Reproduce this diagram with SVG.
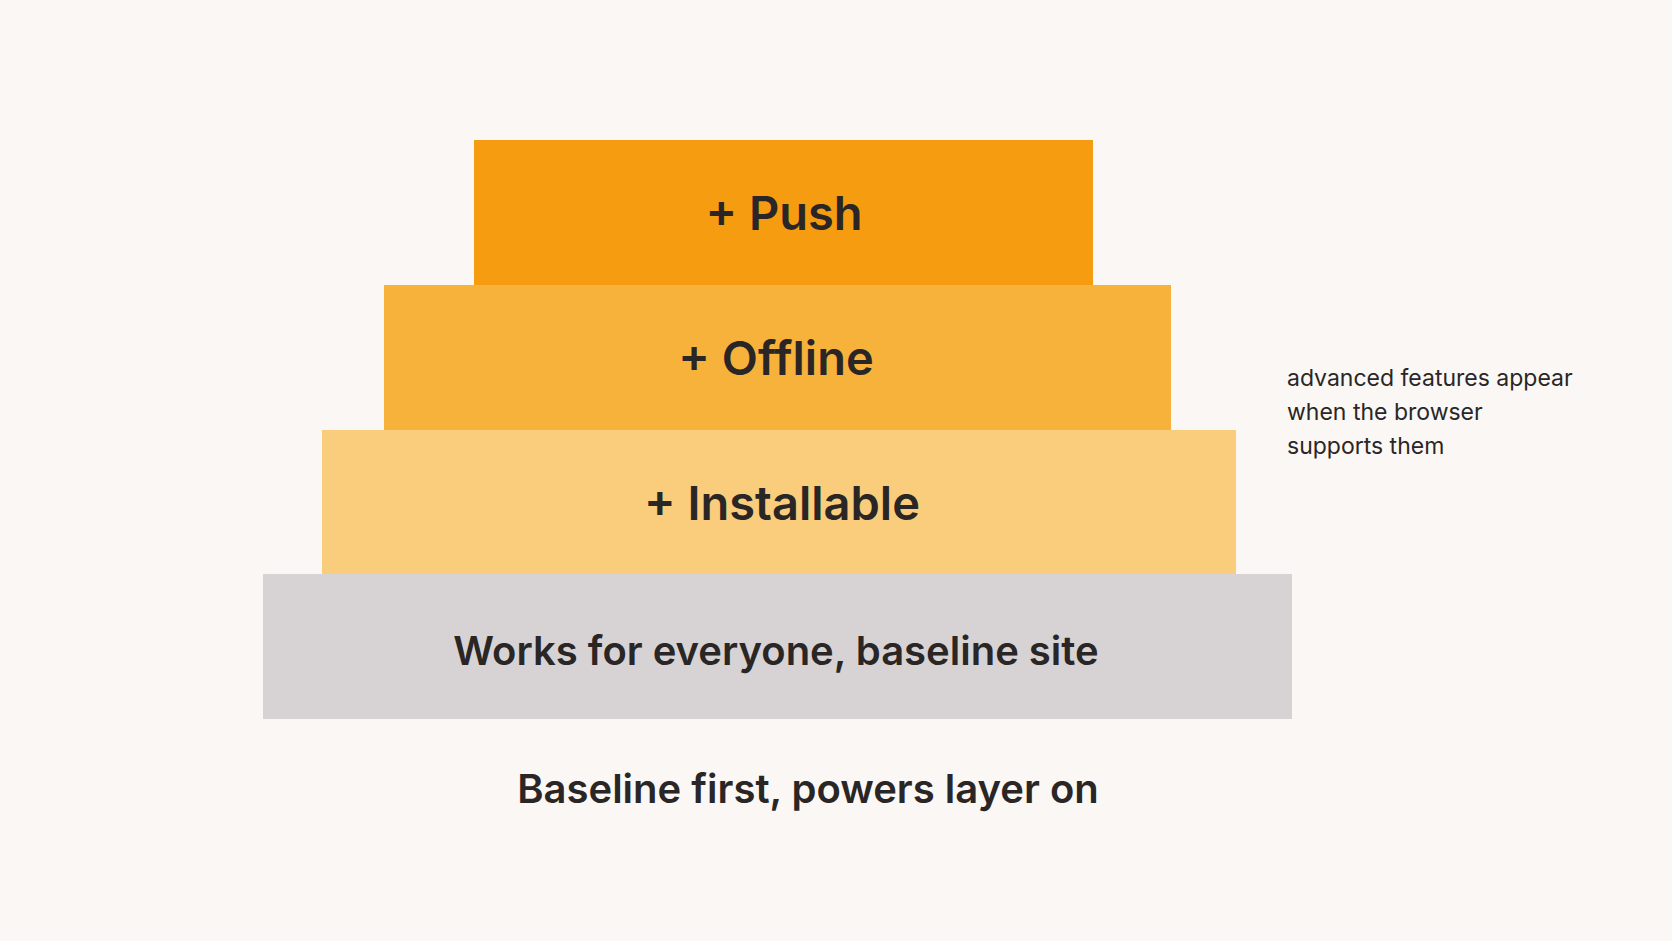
<svg xmlns="http://www.w3.org/2000/svg" width="1672" height="941" viewBox="0 0 1672 941">
<style>
.l{font-family:Inter,"Noto Sans",sans-serif;font-weight:600;fill:#2a2626;text-anchor:middle}
.n{font-family:Inter,"Noto Sans",sans-serif;font-size:23px;fill:#2a2626}
</style>
<rect width="1672" height="941" fill="#fbf7f4"/>
<g id="baseline"><rect x="263" y="574" width="1029" height="145" fill="#d7d3d4"/><text class="l" x="776" y="665" font-size="40">Works for everyone, baseline site</text></g>
<g id="installable"><rect x="322" y="430" width="914" height="144" fill="#f9cd7b"/><text class="l" x="782" y="520" font-size="47">+ Installable</text></g>
<g id="offline"><rect x="384" y="285" width="787" height="145" fill="#f7b23b"/><text class="l" x="776" y="375" font-size="47">+ Offline</text></g>
<g id="push"><rect x="474" y="140" width="619" height="145" fill="#f69c10"/><text class="l" x="784" y="230" font-size="47">+ Push</text></g>
<g id="connectors"/>
<g id="caption"><text class="l" x="808" y="803" font-size="40" font-weight="500">Baseline first, powers layer on</text></g>
<g id="note"><text class="n" x="1287" y="386">advanced features appear</text><text class="n" x="1287" y="420">when the browser</text><text class="n" x="1287" y="454">supports them</text></g>
</svg>
